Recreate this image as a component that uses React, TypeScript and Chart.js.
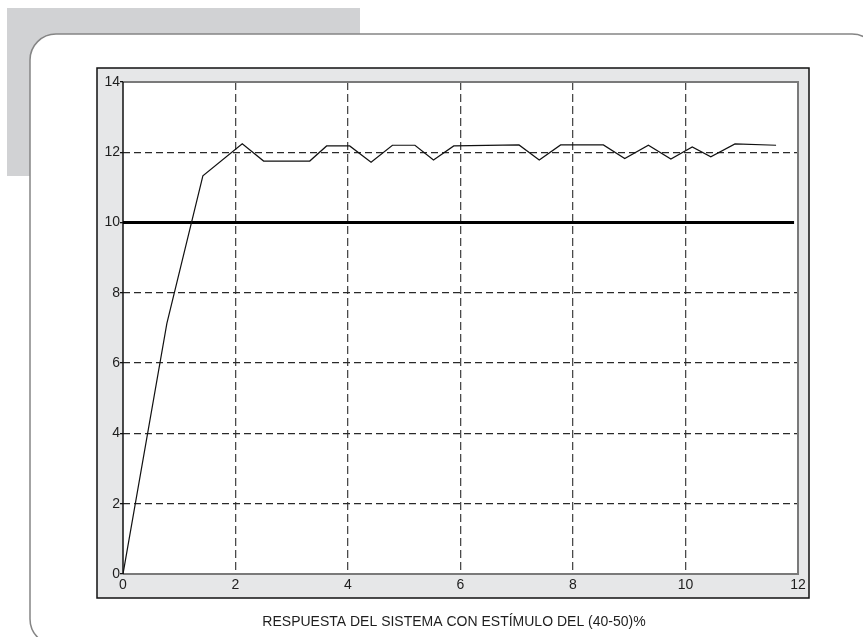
import React, { useEffect, useRef } from "react";
import { Chart, registerables } from "chart.js";

Chart.register(...registerables);

// Time axis (x) and system response (y)
const timeValues = [0, 0.78, 1.42, 2.12, 2.5, 3.32, 3.62, 4.03, 4.41, 4.79, 5.19, 5.52, 5.88, 7.04, 7.4, 7.78, 8.54, 8.92, 9.34, 9.74, 10.12, 10.45, 10.88, 11.61];
const responseValues = [0, 7.13, 11.33, 12.24, 11.75, 11.75, 12.18, 12.18, 11.72, 12.2, 12.2, 11.78, 12.18, 12.21, 11.78, 12.21, 12.21, 11.82, 12.2, 11.81, 12.15, 11.87, 12.24, 12.2];

// Reference (setpoint) line
const setpointTimes = [0, 11.93];
const setpointValues = [10, 10];

const xTicks = [0, 2, 4, 6, 8, 10, 12];
const yTicks = [0, 2, 4, 6, 8, 10, 12, 14];
const axisTitle = "RESPUESTA DEL SISTEMA CON ESTÍMULO DEL (40-50)%";

const FONT = "'Liberation Sans', Arial, Helvetica, sans-serif";

function roundRectPath(ctx: CanvasRenderingContext2D, x: number, y: number, w: number, h: number, r: number) {
  ctx.beginPath();
  ctx.moveTo(x + r, y);
  ctx.lineTo(x + w - r, y);
  ctx.arcTo(x + w, y, x + w, y + r, r);
  ctx.lineTo(x + w, y + h - r);
  ctx.arcTo(x + w, y + h, x + w - r, y + h, r);
  ctx.lineTo(x + r, y + h);
  ctx.arcTo(x, y + h, x, y + h - r, r);
  ctx.lineTo(x, y + r);
  ctx.arcTo(x, y, x + r, y, r);
  ctx.closePath();
}

const decorPlugin = {
  id: "decor",
  beforeDraw(chart: any) {
    const ctx: CanvasRenderingContext2D = chart.ctx;
    const { left, top, right, bottom } = chart.chartArea;
    ctx.save();
    ctx.fillStyle = "#ffffff";
    ctx.fillRect(0, 0, chart.width, chart.height);
    // grey tab top-left
    ctx.fillStyle = "#d1d2d4";
    ctx.fillRect(7, 8, 353, 168);
    // rounded frame
    roundRectPath(ctx, 30, 34, 848, 611, 26);
    ctx.fillStyle = "#ffffff";
    ctx.fill();
    ctx.strokeStyle = "#858585";
    ctx.lineWidth = 1.5;
    ctx.stroke();
    // outer plot box
    ctx.fillStyle = "#e6e7e8";
    ctx.fillRect(97, 68, 712, 530);
    ctx.strokeStyle = "#111";
    ctx.lineWidth = 1.5;
    ctx.strokeRect(97, 68, 712, 530);
    // plot area
    ctx.fillStyle = "#ffffff";
    ctx.fillRect(left, top, right - left, bottom - top);
    ctx.restore();
  },
  beforeDatasetsDraw(chart: any) {
    const ctx: CanvasRenderingContext2D = chart.ctx;
    const { left, top, right, bottom } = chart.chartArea;
    ctx.save();
    ctx.lineWidth = 2;
    ctx.strokeStyle = "#7a7a7a";
    ctx.beginPath();
    ctx.moveTo(left, top);
    ctx.lineTo(right, top);
    ctx.lineTo(right, bottom);
    ctx.lineTo(left, bottom);
    ctx.stroke();
    ctx.strokeStyle = "#111";
    ctx.lineWidth = 1.5;
    ctx.beginPath();
    ctx.moveTo(left, top);
    ctx.lineTo(left, bottom);
    ctx.stroke();
    ctx.restore();
  },
  afterDraw(chart: any) {
    const ctx: CanvasRenderingContext2D = chart.ctx;
    ctx.save();
    ctx.fillStyle = "#1e1e1e";
    ctx.font = `14px ${FONT}`;
    ctx.textAlign = "center";
    ctx.textBaseline = "middle";
    ctx.fillText(axisTitle, 454, 622);
    ctx.restore();
  },
};

export default function App() {
  const canvasRef = useRef<HTMLCanvasElement | null>(null);

  useEffect(() => {
    if (!canvasRef.current) return;
    Chart.defaults.font.family = FONT;
    const chart = new Chart(canvasRef.current, {
      type: "line",
      data: {
        datasets: [
          {
            label: "Respuesta",
            data: timeValues.map((t, i) => ({ x: t, y: responseValues[i] })),
            borderColor: "#111",
            borderWidth: 1.2,
            pointRadius: 0,
            tension: 0,
          },
          {
            label: "Referencia",
            data: setpointTimes.map((t, i) => ({ x: t, y: setpointValues[i] })),
            borderColor: "#000",
            borderWidth: 3,
            pointRadius: 0,
          },
        ],
      },
      options: {
        responsive: false,
        animation: false,
        layout: { padding: { left: 0, top: 82, right: 65, bottom: 0 } },
        plugins: { legend: { display: false }, tooltip: { enabled: false } },
        scales: {
          x: {
            type: "linear",
            min: 0,
            max: 12,
            afterBuildTicks: (s: any) => {
              s.ticks = xTicks.map((v) => ({ value: v }));
            },
            afterFit: (s: any) => {
              s.height = 63;
            },
            ticks: { color: "#1e1e1e", font: { size: 14, family: FONT }, padding: 3, maxRotation: 0 },
            grid: {
              drawTicks: false,
              lineWidth: 1.3,
              color: (c: any) => (c.tick && (c.tick.value === 0 || c.tick.value === 12) ? "rgba(0,0,0,0)" : "#4a4a4a"),
            },
            border: { display: false, dash: [8, 4] },
          },
          y: {
            type: "linear",
            min: 0,
            max: 14,
            afterBuildTicks: (s: any) => {
              s.ticks = yTicks.map((v) => ({ value: v }));
            },
            afterFit: (s: any) => {
              s.width = 123;
            },
            ticks: { color: "#1e1e1e", font: { size: 14, family: FONT }, padding: 0 },
            grid: {
              drawTicks: true,
              tickLength: 3,
              tickColor: "#111",
              lineWidth: 1.3,
              color: (c: any) =>
                c.tick && (c.tick.value === 0 || c.tick.value === 10 || c.tick.value === 14) ? "rgba(0,0,0,0)" : "#2a2a2a",
            },
            border: { display: false, dash: [7, 4] },
          },
        },
      },
      plugins: [decorPlugin],
    });
    return () => chart.destroy();
  }, []);

  return (
    <div style={{ position: "fixed", left: 0, top: 0, width: 863, height: 637 }}>
      <canvas ref={canvasRef} width={863} height={637} style={{ display: "block" }} />
    </div>
  );
}
